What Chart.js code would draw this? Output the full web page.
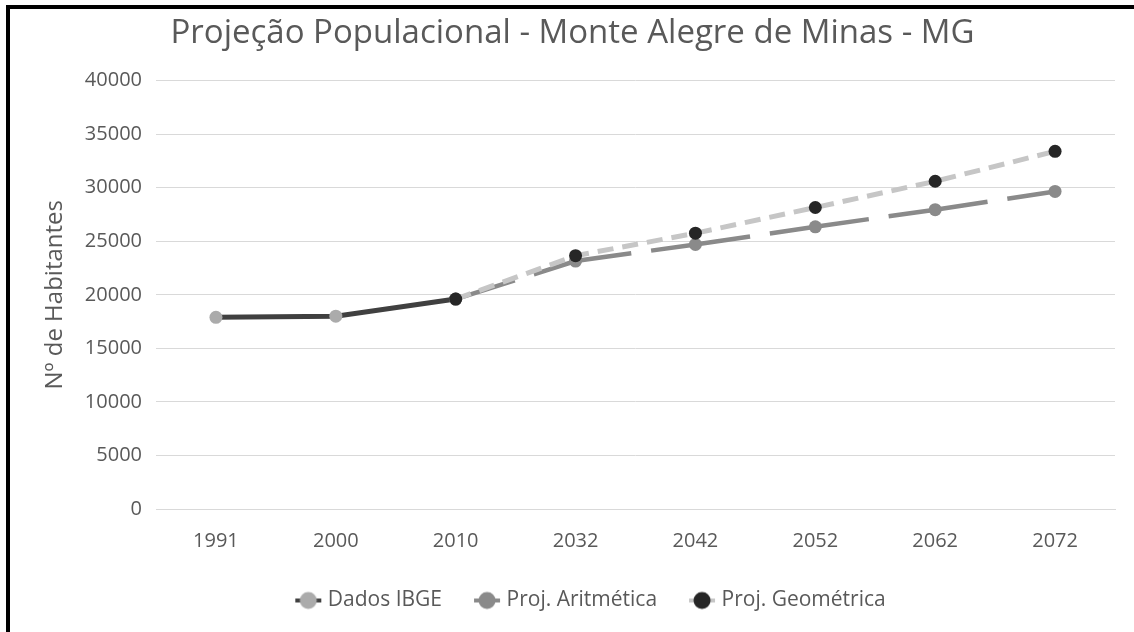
<!DOCTYPE html>
<html>
<head>
<meta charset="utf-8">
<script src="https://cdn.jsdelivr.net/npm/chart.js@4/dist/chart.umd.min.js"></script>
<style>
  html, body { margin: 0; padding: 0; background: #fff; overflow: hidden; }
  #frame {
    position: absolute; left: 6px; top: 5px;
    width: 1124px; height: 623px;
    border-top: 4px solid #000; border-left: 4px solid #000;
  }
  canvas { display: block; }
</style>
</head>
<body>
<div id="frame"><canvas id="popChart" width="1124" height="623"></canvas></div>
<script>
// data
const categories = ['1991', '2000', '2010', '2032', '2042', '2052', '2062', '2072'];
const dadosIBGE = [17900, 18000, 19600, null, null, null, null, null];
const projAritmetica = [null, null, 19600, 23150, 24700, 26350, 27950, 29650];
const projGeometrica = [null, null, 19600, 23650, 25750, 28150, 30600, 33400];
const yTicks = [0, 5000, 10000, 15000, 20000, 25000, 30000, 35000, 40000];

const TEXT = '#595959';
const FONT = 'Open Sans';
const LEGEND_DX = 30;
const TITLE_DX = 10;

// little "line + marker" picture for each legend entry, like Excel draws it
function legendSymbol(lineColor, dotColor) {
  const c = document.createElement('canvas');
  c.width = 30; c.height = 20;
  const g = c.getContext('2d');
  g.strokeStyle = lineColor;
  g.lineWidth = 4;
  g.beginPath(); g.moveTo(2, 10); g.lineTo(28, 10); g.stroke();
  g.fillStyle = dotColor;
  g.beginPath(); g.arc(15, 10, 8.5, 0, Math.PI * 2); g.fill();
  return c;
}

const symbols = [
  legendSymbol('#404040', '#ababab'),
  legendSymbol('#8a8a8a', '#8a8a8a'),
  legendSymbol('#c6c6c6', '#262626')
];

// nudge title and legend sideways, Excel centres them on the whole frame
const boxShift = {
  id: 'boxShift',
  afterLayout(chart) {
    chart.legend.left += LEGEND_DX;
    chart.legend.right += LEGEND_DX;
    chart.titleBlock.left += TITLE_DX;
    chart.titleBlock.right += TITLE_DX;
  }
};

new Chart(document.getElementById('popChart').getContext('2d'), {
  type: 'line',
  data: {
    labels: categories,
    datasets: [
      {
        label: 'Dados IBGE',
        data: dadosIBGE,
        borderColor: '#404040',
        borderWidth: 5,
        pointBackgroundColor: '#ababab',
        pointBorderWidth: 0,
        pointRadius: 6.5,
        tension: 0,
        order: 3
      },
      {
        label: 'Proj. Aritmética',
        data: projAritmetica,
        borderColor: '#8a8a8a',
        borderWidth: 4.5,
        borderDash: [100, 20],
        borderDashOffset: 38,
        pointBackgroundColor: '#8a8a8a',
        pointBorderWidth: 0,
        pointRadius: 6.5,
        tension: 0,
        order: 2
      },
      {
        label: 'Proj. Geométrica',
        data: projGeometrica,
        borderColor: '#c6c6c6',
        borderWidth: 5,
        borderDash: [16, 9],
        pointBackgroundColor: '#262626',
        pointBorderWidth: 0,
        pointRadius: 6.5,
        tension: 0,
        order: 1
      }
    ]
  },
  options: {
    responsive: false,
    animation: false,
    layout: { padding: { left: 0, right: 19, top: 0, bottom: 12 } },
    scales: {
      x: {
        offset: true,
        grid: { display: false, drawTicks: false, offset: true },
        border: { display: true, color: '#d9d9d9', width: 1 },
        ticks: {
          color: TEXT,
          padding: 20,
          font: { family: FONT, size: 20 }
        },
        afterFit(scale) { scale.height = 45; }
      },
      y: {
        min: 0,
        max: 40000,
        afterBuildTicks(scale) { scale.ticks = yTicks.map(v => ({ value: v })); },
        grid: { color: '#d9d9d9', lineWidth: 1, drawTicks: false },
        border: { display: false },
        ticks: {
          color: TEXT,
          padding: 14,
          font: { family: FONT, size: 20 },
          callback: v => String(v)
        },
        title: {
          display: true,
          text: 'Nº de Habitantes',
          color: TEXT,
          font: { family: FONT, size: 24 },
          padding: { top: 31, bottom: 0 }
        },
        afterFit(scale) { scale.width = 146; }
      }
    },
    plugins: {
      title: {
        display: true,
        text: 'Projeção Populacional - Monte Alegre de Minas - MG',
        color: TEXT,
        font: { family: FONT, size: 33, weight: 'normal' },
        padding: { top: 5, bottom: 27 }
      },
      legend: {
        position: 'bottom',
        maxHeight: 66,
        labels: {
          usePointStyle: true,
          pointStyleWidth: 18,
          padding: 36,
          color: TEXT,
          font: { family: FONT, size: 21 },
          generateLabels(chart) {
            const items = Chart.defaults.plugins.legend.labels.generateLabels(chart);
            items.sort((a, b) => a.datasetIndex - b.datasetIndex);
            items.forEach(it => { it.pointStyle = symbols[it.datasetIndex]; });
            return items;
          }
        }
      },
      tooltip: { enabled: false }
    }
  },
  plugins: [boxShift]
});
</script>
</body>
</html>
